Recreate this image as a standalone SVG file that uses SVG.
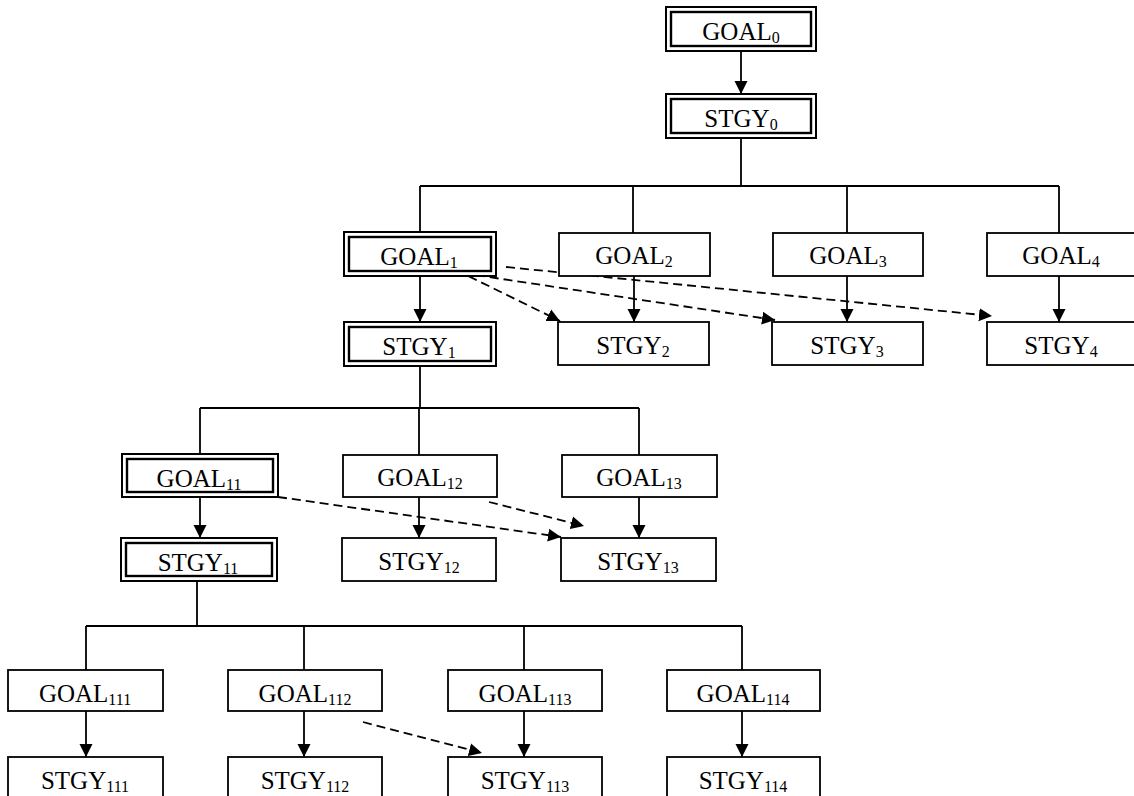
<svg xmlns="http://www.w3.org/2000/svg" width="1134" height="796" viewBox="0 0 1134 796">
<defs>
<style>
.box{fill:#fff;stroke:#000;stroke-width:1.8}
.dbo{fill:#fff;stroke:#000;stroke-width:2}
.dbi{fill:none;stroke:#000;stroke-width:2.4}
.t{font-family:"Liberation Serif","Times New Roman",serif;font-size:25px;fill:#000;text-anchor:middle}
.s{font-size:16px}
.ln{fill:none;stroke:#000;stroke-width:1.8}
.ar{fill:none;stroke:#000;stroke-width:1.8;marker-end:url(#ah)}
.da{fill:none;stroke:#000;stroke-width:1.8;stroke-dasharray:9 5;marker-end:url(#ah)}
</style>
<marker id="ah" markerUnits="userSpaceOnUse" markerWidth="14" markerHeight="14" refX="13" refY="7" orient="auto">
<path d="M0,0.5 L13,7 L0,13.5 z" fill="#000"/>
</marker>
</defs>
<rect width="1134" height="796" fill="#fff"/>

<g id="connectors">
<path class="ar" d="M741,51 V94"/>
<path class="ln" d="M741,138 V186 M420,186 H1059 M420,186 V232 M633,186 V233 M847,186 V233 M1059,186 V233"/>
<path class="ar" d="M420,276 V322"/>
<path class="ar" d="M634,276 V322"/>
<path class="ar" d="M847,276 V322"/>
<path class="ar" d="M1059,276 V322"/>
<path class="da" d="M456,270 L560,321"/>
<path class="da" d="M462,273 L775,320"/>
<path class="da" d="M506,267 L992,316"/>
<path class="ln" d="M420,366 V408 M200,408 H639 M200,408 V454 M419,408 V455 M639,408 V455"/>
<path class="ar" d="M200,497 V538"/>
<path class="ar" d="M419,497 V538"/>
<path class="ar" d="M639,497 V538"/>
<path class="da" d="M278,497 L561,537"/>
<path class="da" d="M489,502 L584,526"/>
<path class="ln" d="M197,581 V626 M86,626 H742 M86,626 V670 M304,626 V670 M524,626 V670 M742,626 V670"/>
<path class="ar" d="M86,711 V757"/>
<path class="ar" d="M304,711 V757"/>
<path class="ar" d="M524,711 V757"/>
<path class="ar" d="M742,711 V757"/>
<path class="da" d="M363,722 L482,753"/>
</g>

<g id="goal0"><rect class="dbo" x="666" y="7" width="150" height="44"/><rect class="dbi" x="671" y="12" width="140" height="34"/><text class="t" x="741" y="40">GOAL<tspan class="s" dy="3">0</tspan></text></g>
<g id="stgy0"><rect class="dbo" x="666" y="94" width="150" height="44"/><rect class="dbi" x="671" y="99" width="140" height="34"/><text class="t" x="741" y="127">STGY<tspan class="s" dy="3">0</tspan></text></g>

<g id="goal1"><rect class="dbo" x="344" y="232" width="152" height="44"/><rect class="dbi" x="349" y="237" width="142" height="34"/><text class="t" x="419" y="265">GOAL<tspan class="s" dy="3">1</tspan></text></g>
<g id="goal2"><rect class="box" x="559" y="233" width="151" height="43"/><text class="t" x="634" y="264">GOAL<tspan class="s" dy="3">2</tspan></text></g>
<g id="goal3"><rect class="box" x="773" y="233" width="150" height="43"/><text class="t" x="848" y="264">GOAL<tspan class="s" dy="3">3</tspan></text></g>
<g id="goal4"><rect class="box" x="987" y="233" width="150" height="43"/><text class="t" x="1061" y="264">GOAL<tspan class="s" dy="3">4</tspan></text></g>

<g id="stgy1"><rect class="dbo" x="344" y="322" width="152" height="44"/><rect class="dbi" x="349" y="327" width="142" height="34"/><text class="t" x="419" y="355">STGY<tspan class="s" dy="3">1</tspan></text></g>
<g id="stgy2"><rect class="box" x="558" y="322" width="151" height="43"/><text class="t" x="633" y="354">STGY<tspan class="s" dy="3">2</tspan></text></g>
<g id="stgy3"><rect class="box" x="772" y="322" width="151" height="43"/><text class="t" x="847" y="354">STGY<tspan class="s" dy="3">3</tspan></text></g>
<g id="stgy4"><rect class="box" x="987" y="322" width="150" height="43"/><text class="t" x="1061" y="354">STGY<tspan class="s" dy="3">4</tspan></text></g>

<g id="goal11"><rect class="dbo" x="122" y="454" width="156" height="43"/><rect class="dbi" x="127" y="459" width="146" height="33"/><text class="t" x="199" y="487">GOAL<tspan class="s" dy="3">11</tspan></text></g>
<g id="goal12"><rect class="box" x="343" y="455" width="154" height="42"/><text class="t" x="420" y="486">GOAL<tspan class="s" dy="3">12</tspan></text></g>
<g id="goal13"><rect class="box" x="562" y="455" width="155" height="42"/><text class="t" x="639" y="486">GOAL<tspan class="s" dy="3">13</tspan></text></g>

<g id="stgy11"><rect class="dbo" x="121" y="538" width="156" height="43"/><rect class="dbi" x="126" y="543" width="146" height="33"/><text class="t" x="198" y="571">STGY<tspan class="s" dy="3">11</tspan></text></g>
<g id="stgy12"><rect class="box" x="342" y="538" width="154" height="43"/><text class="t" x="419" y="570">STGY<tspan class="s" dy="3">12</tspan></text></g>
<g id="stgy13"><rect class="box" x="561" y="538" width="155" height="43"/><text class="t" x="638" y="570">STGY<tspan class="s" dy="3">13</tspan></text></g>

<g id="goal111"><rect class="box" x="8" y="670" width="155" height="41"/><text class="t" x="85" y="702">GOAL<tspan class="s" dy="3">111</tspan></text></g>
<g id="goal112"><rect class="box" x="228" y="670" width="154" height="41"/><text class="t" x="305" y="702">GOAL<tspan class="s" dy="3">112</tspan></text></g>
<g id="goal113"><rect class="box" x="448" y="670" width="154" height="41"/><text class="t" x="525" y="702">GOAL<tspan class="s" dy="3">113</tspan></text></g>
<g id="goal114"><rect class="box" x="667" y="670" width="153" height="41"/><text class="t" x="743" y="702">GOAL<tspan class="s" dy="3">114</tspan></text></g>

<g id="stgy111"><rect class="box" x="8" y="757" width="155" height="44"/><text class="t" x="85" y="789">STGY<tspan class="s" dy="3">111</tspan></text></g>
<g id="stgy112"><rect class="box" x="228" y="757" width="154" height="44"/><text class="t" x="305" y="789">STGY<tspan class="s" dy="3">112</tspan></text></g>
<g id="stgy113"><rect class="box" x="448" y="757" width="154" height="44"/><text class="t" x="525" y="789">STGY<tspan class="s" dy="3">113</tspan></text></g>
<g id="stgy114"><rect class="box" x="667" y="757" width="153" height="44"/><text class="t" x="743" y="789">STGY<tspan class="s" dy="3">114</tspan></text></g>
</svg>
